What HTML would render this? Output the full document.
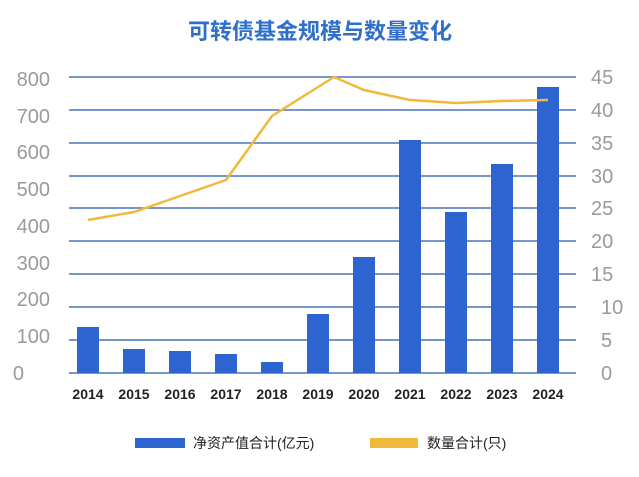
<!DOCTYPE html><html><head><meta charset="utf-8"><style>
body{margin:0;width:639px;height:472px;background:#fff;overflow:hidden;font-family:"Liberation Sans","Noto Sans CJK SC",sans-serif}
</style></head><body>
<svg width="639" height="472" xmlns="http://www.w3.org/2000/svg" style="font-family:'Liberation Sans','Noto Sans CJK SC',sans-serif">
<text x="320" y="39" text-anchor="middle" font-size="22" font-weight="bold" fill="#2f6fcc" font-family="'Liberation Sans','Noto Sans CJK SC',sans-serif">可转债基金规模与数量变化</text>
<g stroke="#4a73b8" stroke-width="1.5">
<line x1="69" x2="576" y1="77" y2="77"/><line x1="69" x2="576" y1="110" y2="110"/><line x1="69" x2="576" y1="143" y2="143"/><line x1="69" x2="576" y1="176" y2="176"/><line x1="69" x2="576" y1="208" y2="208"/><line x1="69" x2="576" y1="241" y2="241"/><line x1="69" x2="576" y1="274" y2="274"/><line x1="69" x2="576" y1="307" y2="307"/><line x1="69" x2="576" y1="340" y2="340"/><line x1="69" x2="576" y1="373" y2="373"/>
</g>
<g fill="#9a9a9a" font-size="20" text-anchor="end">
<text x="50" y="86">800</text><text x="50" y="123">700</text><text x="50" y="159">600</text><text x="50" y="196">500</text><text x="50" y="233">400</text><text x="50" y="270">300</text><text x="50" y="306">200</text><text x="50" y="343">100</text><text x="24" y="380">0</text>
</g>
<g fill="#9a9a9a" font-size="20">
<text x="591" y="84">45</text><text x="591" y="117">40</text><text x="591" y="150">35</text><text x="591" y="183">30</text><text x="591" y="215">25</text><text x="591" y="248">20</text><text x="591" y="281">15</text><text x="601" y="314">10</text><text x="601" y="347">5</text><text x="601" y="380">0</text>
</g>
<g fill="#2e64d0">
<rect x="77" y="327" width="22" height="46"/><rect x="123" y="349" width="22" height="24"/><rect x="169" y="351" width="22" height="22"/><rect x="215" y="354" width="22" height="19"/><rect x="261" y="362" width="22" height="11"/><rect x="307" y="314" width="22" height="59"/><rect x="353" y="257" width="22" height="116"/><rect x="399" y="140" width="22" height="233"/><rect x="445" y="212" width="22" height="161"/><rect x="491" y="164" width="22" height="209"/><rect x="537" y="87" width="22" height="286"/>
</g>
<polyline fill="none" stroke="#f0b93a" stroke-width="2.5" points="88,220 134,212 180,196 226,180 272,116 334,77 364,90 410,100 456,103 502,101 548,100"/>
<g fill="#222" font-size="14" font-weight="bold" text-anchor="middle">
<text x="88" y="399">2014</text><text x="134" y="399">2015</text><text x="180" y="399">2016</text><text x="226" y="399">2017</text><text x="272" y="399">2018</text><text x="318" y="399">2019</text><text x="364" y="399">2020</text><text x="410" y="399">2021</text><text x="456" y="399">2022</text><text x="502" y="399">2023</text><text x="548" y="399">2024</text>
</g>
<rect x="135" y="438" width="50" height="10" fill="#2e64d0"/>
<text x="193" y="448" font-size="14" fill="#222">净资产值合计(亿元)</text>
<rect x="370" y="438" width="48" height="10" fill="#f0b93a"/>
<text x="427" y="448" font-size="14" fill="#222">数量合计(只)</text>
</svg>
</body></html>
